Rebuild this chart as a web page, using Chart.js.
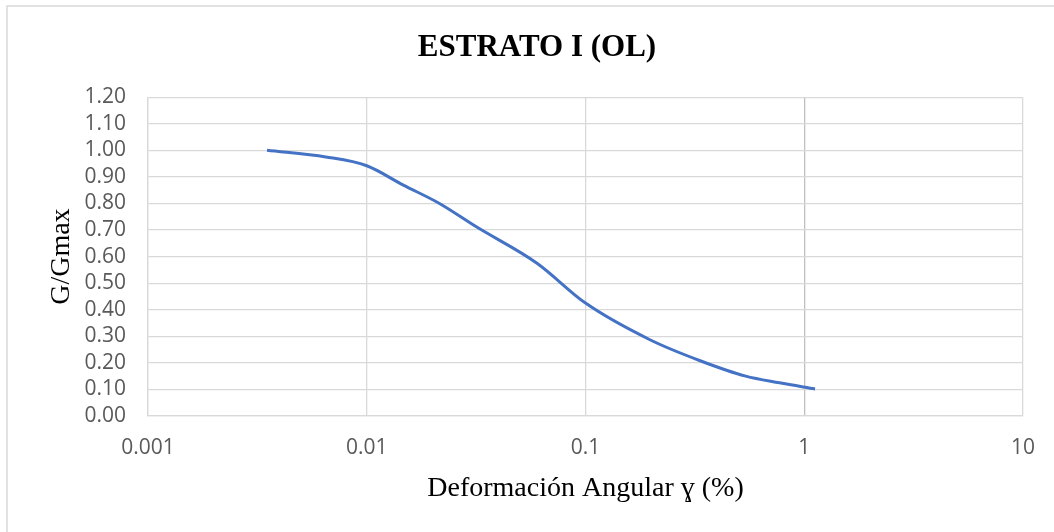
<!DOCTYPE html>
<html>
<head>
<meta charset="utf-8">
<script src="https://cdn.jsdelivr.net/npm/chart.js"></script>
<style>
  html, body { margin: 0; padding: 0; background: #fff; }
  #wrap { width: 1054px; height: 532px; position: relative; }
</style>
</head>
<body>
<div id="wrap"><canvas id="chart" width="1054" height="532"></canvas></div>
<script>
// strain (%) and G/Gmax
const strain = [0.0035, 0.0065, 0.01, 0.0147, 0.0215, 0.0317, 0.06, 0.1, 0.196, 0.332, 0.54, 0.77, 1.12];
const gRatio = [1.00, 0.975, 0.942, 0.869, 0.80, 0.712, 0.575, 0.425, 0.288, 0.209, 0.150, 0.125, 0.102];
const xTicks = [0.001, 0.01, 0.1, 1, 10];

const chartTitle = 'ESTRATO I (OL)';
const xTitle = 'Deformación Angular ɣ (%)';
const yTitle = 'G/Gmax';

const points = strain.map((x, i) => ({ x, y: gRatio[i] }));

// light border of the chart area
const frame = {
  id: 'frame',
  beforeDraw(chart) {
    const c = chart.ctx;
    c.save();
    c.fillStyle = '#fff';
    c.fillRect(0, 0, chart.width, chart.height);
    c.strokeStyle = '#d9d9d9';
    c.lineWidth = 1.5;
    c.strokeRect(7, 6, chart.width + 10, chart.height + 10);
    c.restore();
  }
};

const serif = '"Liberation Serif", "Times New Roman", "DejaVu Serif", serif';
const sans = '"Open Sans", "Liberation Sans", sans-serif';

new Chart(document.getElementById('chart'), {
  type: 'scatter',
  data: {
    datasets: [{
      data: points,
      showLine: true,
      borderColor: '#4472c4',
      borderWidth: 3,
      pointRadius: 0,
      cubicInterpolationMode: 'monotone',
      fill: false
    }]
  },
  options: {
    responsive: false,
    animation: false,
    layout: { padding: { left: 50, right: 30, top: 0, bottom: 0 } },
    plugins: {
      legend: { display: false },
      tooltip: { enabled: false },
      title: {
        display: true,
        text: chartTitle,
        color: '#000',
        font: { family: serif, size: 31, weight: 'bold' },
        padding: { top: 29, bottom: 31 }
      }
    },
    scales: {
      x: {
        type: 'logarithmic',
        min: 0.001,
        max: 10,
        afterBuildTicks(axis) { axis.ticks = xTicks.map(v => ({ value: v })); },
        afterFit(axis) { axis.height = 116; },
        ticks: {
          color: '#595959',
          font: { family: sans, size: 21 },
          padding: 19,
          maxRotation: 0,
          autoSkip: false,
          callback: v => String(v)
        },
        grid: {
          color: ctx => (ctx.tick && ctx.tick.value === 1 ? '#bfbfbf' : '#d9d9d9'),
          lineWidth: 1.3,
          drawTicks: false
        },
        border: { color: '#d9d9d9', width: 1.3 },
        title: {
          display: true,
          text: xTitle,
          color: '#000',
          font: { family: serif, size: 28 },
          padding: { top: 0, bottom: 27 }
        }
      },
      y: {
        min: 0,
        max: 1.2,
        afterFit(axis) { axis.width = 98; },
        ticks: {
          stepSize: 0.1,
          autoSkip: false,
          color: '#595959',
          font: { family: sans, size: 21 },
          padding: 22,
          callback: v => Number(v).toFixed(2)
        },
        grid: { color: '#d9d9d9', lineWidth: 1.3, drawTicks: false },
        border: { color: '#d9d9d9', width: 1.3 },
        title: {
          display: true,
          text: yTitle,
          color: '#000',
          font: { family: serif, size: 28, lineHeight: 0.8 },
          padding: { top: 0, bottom: 0 }
        }
      }
    }
  },
  plugins: [frame]
});
</script>
</body>
</html>
